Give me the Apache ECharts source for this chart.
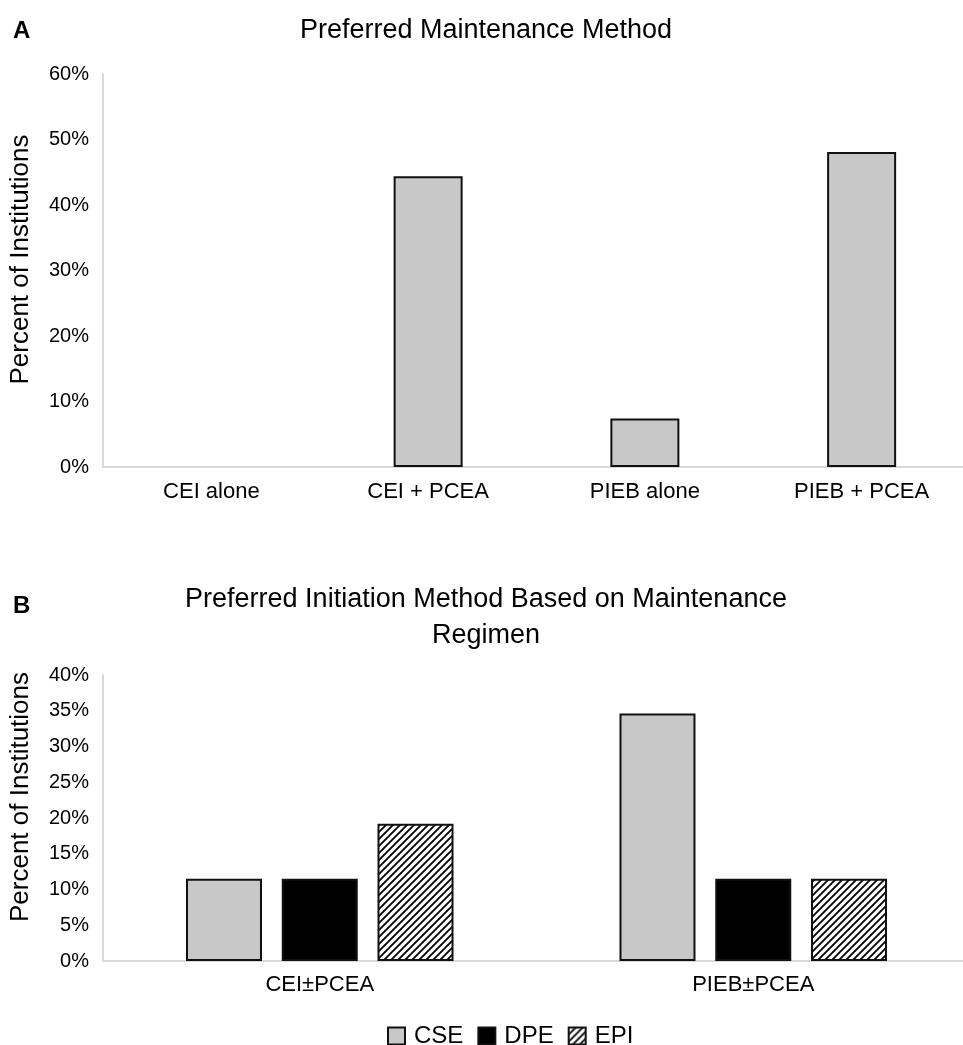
<!DOCTYPE html>
<html>
<head>
<meta charset="utf-8">
<script src="https://cdn.jsdelivr.net/npm/echarts@6/dist/echarts.min.js"></script>
<style>
html,body{margin:0;padding:0;background:#fff;overflow:hidden;width:963px;height:1045px;}
#chart{width:970px;height:1045px;}
</style>
</head>
<body>
<div id="chart"></div>
<script>
// Panel A data
const catsA = ['CEI alone', 'CEI + PCEA', 'PIEB alone', 'PIEB + PCEA'];
const valuesA = [0, 44.4, 7.4, 48.1];
const ticksA = [0, 10, 20, 30, 40, 50, 60];

// Panel B data
const catsB = ['CEI\u00b1PCEA', 'PIEB\u00b1PCEA'];
const seriesNamesB = ['CSE', 'DPE', 'EPI'];
const valuesCSE = [11.5, 34.6];
const valuesDPE = [11.5, 11.5];
const valuesEPI = [19.2, 11.5];
const ticksB = [0, 5, 10, 15, 20, 25, 30, 35, 40];

// hatch pattern
function makeHatch() {
  const s = 7;
  const c = document.createElement('canvas');
  c.width = s; c.height = s;
  const g = c.getContext('2d');
  g.fillStyle = '#fff';
  g.fillRect(0, 0, s, s);
  g.strokeStyle = '#000';
  g.lineWidth = 1.8;
  g.beginPath();
  g.moveTo(-2, s + 2); g.lineTo(s + 2, -2);
  g.moveTo(-2, 2); g.lineTo(2, -2);
  g.moveTo(s - 2, s + 2); g.lineTo(s + 2, s - 2);
  g.stroke();
  return c;
}
const hatch = { image: makeHatch(), repeat: 'repeat' };

const FONT = '"Liberation Sans", Arial, Helvetica, sans-serif';
const gray = '#c8c8c8';
const edge = '#111';

const chart = echarts.init(document.getElementById('chart'), null, { renderer: 'canvas' });

const yLabelFmt = v => v + '%';

const option = {
  animation: false,
  backgroundColor: '#fff',
  textStyle: { fontFamily: FONT },
  title: [
    { text: 'A', left: 8, top: 14, textStyle: { fontFamily: FONT, fontSize: 24, fontWeight: 'bold', color: '#000' } },
    { text: 'Preferred Maintenance Method', left: 481, top: 12, textAlign: 'center', textStyle: { fontFamily: FONT, fontSize: 27, fontWeight: 'normal', color: '#000' } },
    { text: 'B', left: 8, top: 589, textStyle: { fontFamily: FONT, fontSize: 24, fontWeight: 'bold', color: '#000' } },
    { text: 'Preferred Initiation Method Based on Maintenance\nRegimen', left: 481, top: 577, textAlign: 'center', textStyle: { fontFamily: FONT, fontSize: 27, fontWeight: 'normal', color: '#000', lineHeight: 36 } }
  ],
  legend: {
    data: seriesNamesB,
    left: 387,
    top: 1024,
    padding: 0,
    itemWidth: 17,
    itemHeight: 17,
    itemGap: 14,
    textStyle: { fontFamily: FONT, fontSize: 24, color: '#000', padding: [0, 0, 0, 4] },
    icon: 'rect'
  },
  grid: [
    { left: 103, top: 74, width: 867, height: 393, containLabel: false },
    { left: 103, top: 675, width: 867, height: 286, containLabel: false }
  ],
  xAxis: [
    {
      gridIndex: 0, type: 'category', data: catsA,
      axisLine: { lineStyle: { color: '#d9d9d9', width: 2 } },
      axisTick: { show: false },
      axisLabel: { fontFamily: FONT, fontSize: 22, color: '#000', margin: 14 }
    },
    {
      gridIndex: 1, type: 'category', data: catsB,
      axisLine: { lineStyle: { color: '#d9d9d9', width: 2 } },
      axisTick: { show: false },
      axisLabel: { fontFamily: FONT, fontSize: 22, color: '#000', margin: 13 }
    }
  ],
  yAxis: [
    {
      gridIndex: 0, type: 'value', min: ticksA[0], max: ticksA[ticksA.length - 1], interval: 10,
      name: 'Percent of Institutions', nameLocation: 'middle', nameGap: 69,
      nameTextStyle: { fontFamily: FONT, fontSize: 26, color: '#000', padding: [0, 0, 0, 22] },
      axisLine: { show: true, lineStyle: { color: '#d9d9d9', width: 2 } },
      axisTick: { show: false },
      splitLine: { show: false },
      axisLabel: { fontFamily: FONT, fontSize: 20, color: '#000', margin: 14, formatter: yLabelFmt }
    },
    {
      gridIndex: 1, type: 'value', min: ticksB[0], max: ticksB[ticksB.length - 1], interval: 5,
      name: 'Percent of Institutions', nameLocation: 'middle', nameGap: 69,
      nameTextStyle: { fontFamily: FONT, fontSize: 26, color: '#000', padding: [0, 0, 0, 42] },
      axisLine: { show: true, lineStyle: { color: '#d9d9d9', width: 2 } },
      axisTick: { show: false },
      splitLine: { show: false },
      axisLabel: { fontFamily: FONT, fontSize: 20, color: '#000', margin: 14, formatter: yLabelFmt }
    }
  ],
  series: [
    {
      name: 'Maintenance', type: 'bar', xAxisIndex: 0, yAxisIndex: 0,
      barWidth: 69,
      data: valuesA.map(v => v === 0 ? { value: v, itemStyle: { borderWidth: 0 } } : v),
      itemStyle: { color: gray, borderColor: edge, borderWidth: 2 }
    },
    {
      name: 'CSE', type: 'bar', xAxisIndex: 1, yAxisIndex: 1,
      barWidth: 76, barGap: '26%',
      data: valuesCSE,
      itemStyle: { color: gray, borderColor: edge, borderWidth: 2 }
    },
    {
      name: 'DPE', type: 'bar', xAxisIndex: 1, yAxisIndex: 1,
      barWidth: 76, barGap: '26%',
      data: valuesDPE,
      itemStyle: { color: '#000', borderColor: edge, borderWidth: 2 }
    },
    {
      name: 'EPI', type: 'bar', xAxisIndex: 1, yAxisIndex: 1,
      barWidth: 76, barGap: '26%',
      data: valuesEPI,
      itemStyle: { color: hatch, borderColor: edge, borderWidth: 2 }
    }
  ]
};
chart.setOption(option);
</script>
</body>
</html>
